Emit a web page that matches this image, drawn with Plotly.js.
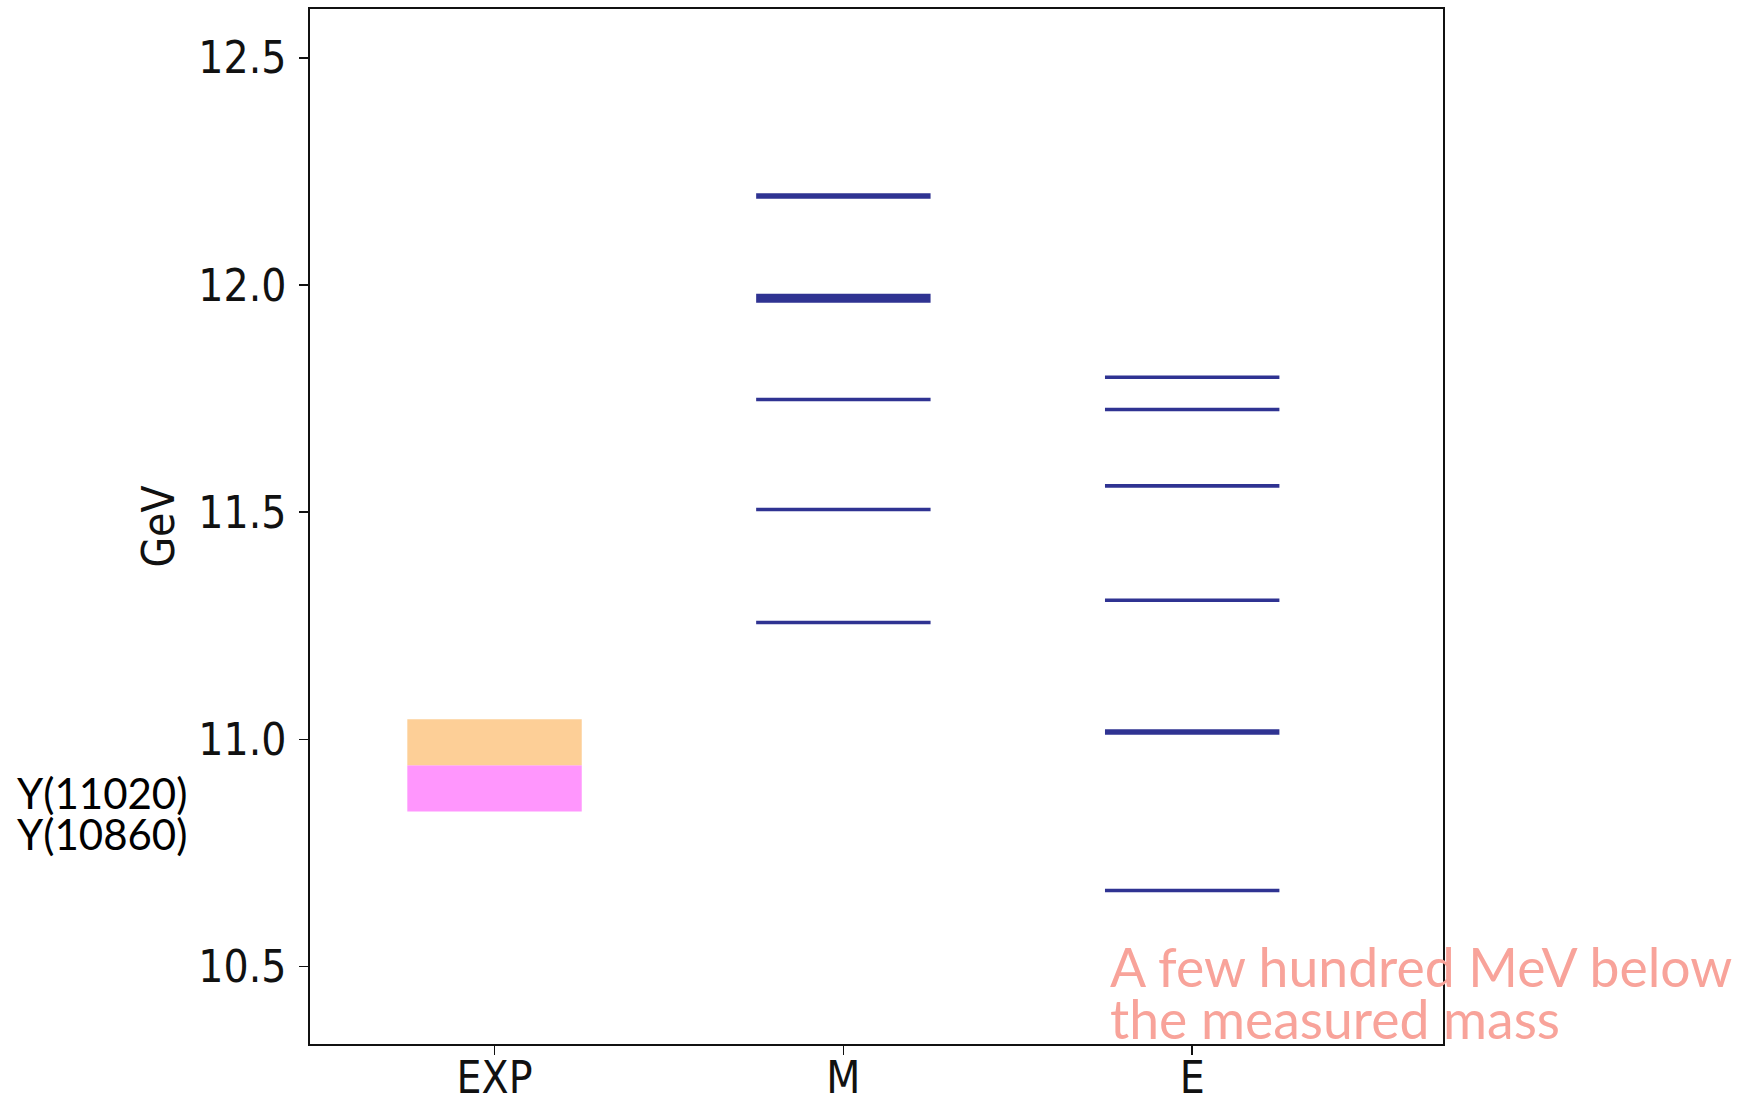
<!DOCTYPE html>
<html>
<head>
<meta charset="utf-8">
<script src="https://cdn.plot.ly/plotly-3.0.1.min.js"></script>
<style>
  html, body { margin: 0; padding: 0; background: #ffffff; }
  #chart { width: 1756px; height: 1104px; }
</style>
</head>
<body>
<div id="chart"></div>
<script>
// Column categories on the x axis
const categories = ['EXP', 'M', 'E'];

// Experimental bands (GeV): lower and upper edges
const expNames = ['Y(10860)', 'Y(11020)'];
const expLow = [10.841, 10.943];
const expHigh = [10.943, 11.044];

// Predicted levels (GeV)
const mLevels = [12.196, 11.971, 11.748, 11.506, 11.257];
const eLevels = [11.797, 11.726, 11.558, 11.306, 11.016, 10.667];

// Line weights for each level (styling)
const mWeights = [5.5, 9, 3.6, 3.6, 3.6];
const eWeights = [3.6, 3.6, 3.6, 3.6, 5.5, 3.6];

const halfWidth = 0.25;
const levelColor = '#2f3392';
const bandColors = ['#ff96fd', '#fdcf97'];

const traces = [];

// Experimental bands as floating bars
expNames.forEach((name, i) => {
  traces.push({
    type: 'bar',
    name: name,
    x: [0],
    y: [expHigh[i] - expLow[i]],
    base: [expLow[i]],
    width: [2 * halfWidth],
    marker: { color: bandColors[i], line: { width: 0 } },
    hoverinfo: 'skip',
    showlegend: false
  });
});

// Horizontal level segments for a column
function addLevels(col, levels, weights) {
  levels.forEach((v, i) => {
    traces.push({
      type: 'scatter',
      mode: 'lines',
      x: [col - halfWidth, col + halfWidth],
      y: [v, v],
      line: { color: levelColor, width: weights[i] },
      hoverinfo: 'skip',
      showlegend: false
    });
  });
}
addLevels(categories.indexOf('M'), mLevels, mWeights);
addLevels(categories.indexOf('E'), eLevels, eWeights);

const tickFont = { family: 'DejaVu Sans Condensed, DejaVu Sans, sans-serif', size: 44, color: '#111111' };
const labelFont = { family: 'Lato, sans-serif', size: 42, color: '#000000' };
const noteFont = { family: 'Lato, sans-serif', size: 53.5, color: '#f8a39a' };

const layout = {
  width: 1756,
  height: 1104,
  margin: { l: 310, r: 313, t: 9, b: 60 },
  paper_bgcolor: '#ffffff',
  plot_bgcolor: '#ffffff',
  barmode: 'overlay',
  showlegend: false,
  xaxis: {
    range: [-0.529, 2.719],
    tickvals: [0, 1, 2],
    ticktext: categories,
    ticks: 'outside',
    ticklen: 9,
    tickwidth: 1.5,
    tickcolor: '#111111',
    tickfont: tickFont,
    ticklabelstandoff: -15,
    showgrid: false,
    zeroline: false,
    showline: true,
    linecolor: '#111111',
    linewidth: 1.8,
    mirror: true,
    fixedrange: true
  },
  yaxis: {
    range: [10.329, 12.608],
    tickvals: [10.5, 11.0, 11.5, 12.0, 12.5],
    ticktext: ['10.5', '11.0', '11.5', '12.0', '12.5'],
    ticks: 'outside',
    ticklen: 9,
    tickwidth: 1.5,
    tickcolor: '#111111',
    tickfont: tickFont,
    ticklabelstandoff: 4,
    showgrid: false,
    zeroline: false,
    showline: true,
    linecolor: '#111111',
    linewidth: 1.8,
    mirror: true,
    title: { text: 'GeV', font: tickFont, standoff: 10 },
    fixedrange: true
  },
  annotations: [
    {
      text: 'Y(11020)', xref: 'paper', yref: 'paper', x: -0.2605, y: 0.2425,
      xanchor: 'left', yanchor: 'middle', showarrow: false, font: labelFont
    },
    {
      text: 'Y(10860)', xref: 'paper', yref: 'paper', x: -0.2605, y: 0.2032,
      xanchor: 'left', yanchor: 'middle', showarrow: false, font: labelFont
    },
    {
      text: 'A few hundred MeV below', xref: 'paper', yref: 'paper', x: 0.7047, y: 0.0754,
      xanchor: 'left', yanchor: 'middle', showarrow: false, font: noteFont
    },
    {
      text: 'the measured mass', xref: 'paper', yref: 'paper', x: 0.7047, y: 0.0251,
      xanchor: 'left', yanchor: 'middle', showarrow: false, font: noteFont
    }
  ]
};

Plotly.newPlot('chart', traces, layout, { displayModeBar: false, staticPlot: true });
</script>
</body>
</html>
